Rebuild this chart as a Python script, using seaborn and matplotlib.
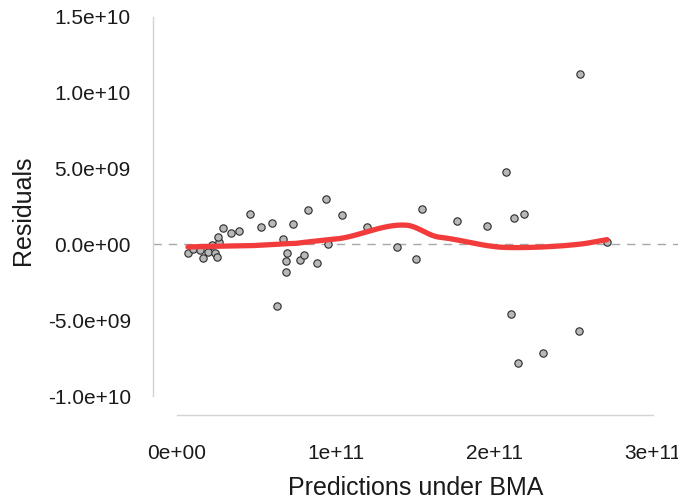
import numpy as np
import pandas as pd
import matplotlib
matplotlib.use("Agg")
import matplotlib.pyplot as plt
import seaborn as sns

# Predictions under BMA (units of 1e11) and residuals (units of 1e9)
predictions_e11 = [0.069, 0.101, 0.145, 0.164, 0.195, 0.239, 0.252, 0.221, 0.265, 0.258,
                   0.290, 0.340, 0.391, 0.460, 0.529, 0.599, 0.668, 0.630, 0.693, 0.687,
                   0.687, 0.731, 0.825, 0.775, 0.800, 0.882, 0.939, 0.951, 1.040, 1.197,
                   1.386, 1.506, 1.544, 1.764, 1.953, 2.073, 2.123, 2.186, 2.105, 2.149,
                   2.306, 2.533, 2.710, 2.539]
residuals_e9 = [-0.57, -0.30, -0.37, -0.90, -0.50, -0.57, -0.83, -0.04, 0.16, 0.49,
                1.08, 0.75, 0.88, 2.01, 1.15, 1.41, 0.36, -4.06, -0.57, -1.10,
                -1.82, 1.35, 2.27, -1.03, -0.70, -1.23, 2.99, 0.03, 1.94, 1.15,
                -0.17, -0.96, 2.34, 1.54, 1.21, 4.78, 1.74, 2.00, -4.59, -7.82,
                -7.16, -5.71, 0.16, 11.24]

x_ticks = [0, 1e11, 2e11, 3e11]
x_tick_labels = ["0e+00", "1e+11", "2e+11", "3e+11"]
y_ticks = [-1e10, -5e9, 0, 5e9, 1e10, 1.5e10]
y_tick_labels = ["-1.0e+10", "-5.0e+09", "0.0e+00", "5.0e+09", "1.0e+10", "1.5e+10"]

x = np.array(predictions_e11)
y = np.array(residuals_e9)
df = pd.DataFrame({"pred": x * 1e11, "resid": y * 1e9})


def local_fit(xv, yv, x0, span=0.75, degree=2):
    n = len(xv)
    q = int(np.floor(n * span))
    d = np.abs(xv - x0)
    h = np.sort(d)[q - 1]
    u = np.clip(d / h, 0, 1)
    w = (1 - u ** 3) ** 3
    X = np.vander(xv - x0, degree + 1, increasing=True)
    WX = X * w[:, None]
    beta = np.linalg.solve(X.T @ WX, WX.T @ yv)
    return beta[0], beta[1]


def loess_interp(xv, yv, grid, span=0.75, cell=0.1):
    # loess surface: kd-tree vertices + cubic Hermite interpolation
    fc = max(1, int(np.floor(len(xv) * span * cell)))
    s = np.sort(xv)
    verts = {s[0], s[-1]}

    def split(lo, hi):
        if hi - lo + 1 <= fc:
            return
        m = (lo + hi) // 2
        v = (s[m] + s[m + 1]) / 2
        verts.add(v)
        split(lo, m)
        split(m + 1, hi)

    split(0, len(s) - 1)
    vx = np.array(sorted(verts))
    vals = np.array([local_fit(xv, yv, v, span) for v in vx])
    f, fp = vals[:, 0], vals[:, 1]
    out = []
    for g in grid:
        i = int(np.clip(np.searchsorted(vx, g) - 1, 0, len(vx) - 2))
        x0, x1 = vx[i], vx[i + 1]
        hh = x1 - x0
        t = (g - x0) / hh
        h00 = 2 * t**3 - 3 * t**2 + 1
        h10 = t**3 - 2 * t**2 + t
        h01 = -2 * t**3 + 3 * t**2
        h11 = t**3 - t**2
        out.append(h00 * f[i] + h10 * hh * fp[i] + h01 * f[i + 1] + h11 * hh * fp[i + 1])
    return np.array(out)


grid = np.linspace(x.min(), x.max(), 300)
smooth = pd.DataFrame({"pred": grid * 1e11, "fit": loess_interp(x, y, grid) * 1e9})

sns.set_style("white")
plt.rcParams["font.family"] = ["Liberation Sans", "DejaVu Sans"]

W, H = 678, 499
fig = plt.figure(figsize=(W / 100, H / 100), dpi=100)
left, right, bottom, top = 153, 678, 415, 5
ax = fig.add_axes([left / W, (H - bottom) / H, (right - left) / W, (bottom - top) / H])

ax.axhline(0, color="#a8a8a8", lw=1.0, ls=(0, (6, 5)), zorder=1)
sns.scatterplot(data=df, x="pred", y="resid", ax=ax, s=28, color="#b8b8b8",
                edgecolor="#2a2a2a", linewidth=0.8, zorder=3, legend=False)
sns.lineplot(data=smooth, x="pred", y="fit", ax=ax, color="#f23c3c", lw=3.8,
             zorder=4, legend=False)

ax.set_xlim(-0.151e11, 3.157e11)
ax.set_ylim(-11.25e9, 15.79e9)
ax.set_xticks(x_ticks)
ax.set_xticklabels(x_tick_labels)
ax.set_yticks(y_ticks)
ax.set_yticklabels(y_tick_labels)

for side in ["top", "right"]:
    ax.spines[side].set_visible(False)
for side in ["left", "bottom"]:
    ax.spines[side].set_color("#d4d4d4")
    ax.spines[side].set_linewidth(1.0)
ax.spines["left"].set_bounds(-1e10, 1.5e10)
ax.spines["bottom"].set_bounds(0, 3e11)

ax.tick_params(axis="both", direction="out", length=7, width=1.0, color="#333333",
               labelsize=15, labelcolor="#1a1a1a")
ax.tick_params(axis="y", pad=9)
ax.tick_params(axis="x", pad=14)
ax.set_xlabel("Predictions under BMA", fontsize=18, color="#1a1a1a", labelpad=9)
ax.set_ylabel("Residuals", fontsize=18, color="#1a1a1a", labelpad=9)
ax.grid(False)

fig.savefig("out.png", dpi=100)
